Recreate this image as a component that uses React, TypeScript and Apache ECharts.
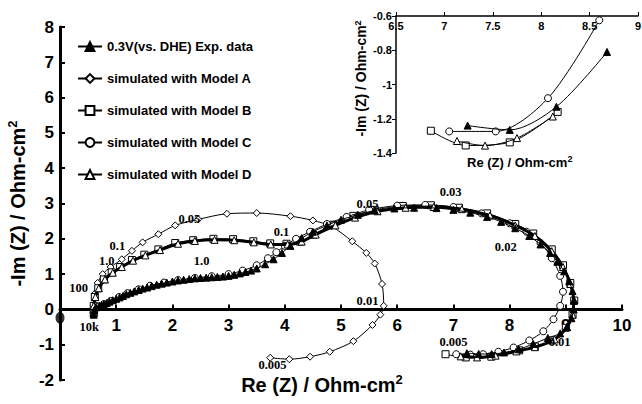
import { useEffect, useRef } from 'react';
import * as echarts from 'echarts';

const FONT = '"Liberation Sans", Arial, Helvetica, sans-serif';
const SERIF = '"Liberation Serif", "Times New Roman", serif';

const legendNames = [
  '0.3V(vs. DHE) Exp. data',
  'simulated with Model A',
  'simulated with Model B',
  'simulated with Model C',
  'simulated with Model D',
];

const expData = [
  [0.6, -0.15], [0.61, -0.02], [0.64, 0.06], [0.7, 0.1], [0.74, 0.12], [0.78, 0.15], [0.83, 0.18],
  [0.88, 0.22], [0.94, 0.26], [1.0, 0.3], [1.06, 0.34], [1.12, 0.38], [1.18, 0.43], [1.25, 0.47],
  [1.32, 0.51], [1.4, 0.55], [1.47, 0.59], [1.55, 0.62], [1.63, 0.66], [1.72, 0.7], [1.81, 0.73],
  [1.9, 0.76], [2.0, 0.79], [2.1, 0.82], [2.2, 0.84], [2.3, 0.86], [2.4, 0.88], [2.5, 0.89],
  [2.6, 0.9], [2.7, 0.91], [2.8, 0.92], [2.9, 0.93], [3.0, 0.95], [3.1, 0.98], [3.2, 1.02],
  [3.3, 1.06], [3.4, 1.1], [3.5, 1.16], [3.65, 1.28], [3.8, 1.42], [3.95, 1.6], [4.1, 1.8],
  [4.3, 2.02], [4.5, 2.2], [4.75, 2.38], [5.0, 2.54], [5.3, 2.68], [5.6, 2.8], [5.95, 2.86],
  [6.3, 2.88], [6.7, 2.87], [7.0, 2.82], [7.3, 2.74], [7.6, 2.62], [7.85, 2.48], [8.1, 2.3],
  [8.35, 2.08], [8.55, 1.84], [8.72, 1.6], [8.85, 1.35], [8.97, 1.08], [9.06, 0.8], [9.12, 0.52],
  [9.15, 0.25], [9.14, 0.0], [9.1, -0.25], [9.02, -0.5], [8.9, -0.68], [8.68, -0.81],
  [8.42, -0.98], [8.16, -1.13], [7.9, -1.22], [7.68, -1.265], [7.45, -1.26], [7.24, -1.24],
];

const modelA = [
  [0.6, -0.1], [0.6, 0.1], [0.62, 0.45], [0.67, 0.75], [0.76, 1.0], [0.9, 1.2], [1.1, 1.42],
  [1.28, 1.66], [1.47, 1.9], [1.75, 2.13], [2.05, 2.38], [2.46, 2.55], [2.97, 2.71], [3.5, 2.73],
  [4.1, 2.64], [4.5, 2.52], [4.83, 2.35], [5.2, 1.93], [5.45, 1.6], [5.6, 1.3], [5.73, 0.72],
  [5.76, 0.1], [5.7, -0.15], [5.56, -0.44], [5.22, -0.9], [4.8, -1.2], [4.45, -1.34],
  [4.08, -1.41], [3.74, -1.37],
];

const modelB = [
  [0.6, -0.1], [0.6, 0.1], [0.62, 0.35], [0.68, 0.6], [0.78, 0.85], [0.92, 1.05], [1.07, 1.2],
  [1.28, 1.4], [1.5, 1.55], [1.75, 1.7], [2.05, 1.88], [2.37, 1.96], [2.73, 2.0], [3.08, 1.99],
  [3.44, 1.93], [3.74, 1.87], [4.03, 1.86], [4.27, 1.92], [4.5, 2.12], [4.86, 2.4], [5.22, 2.65],
  [5.6, 2.82], [6.1, 2.93], [6.6, 2.95], [7.1, 2.88], [7.6, 2.72], [8.1, 2.42], [8.42, 2.15],
  [8.75, 1.7], [8.95, 1.25], [9.08, 0.75], [9.15, 0.25], [9.12, -0.15], [9.0, -0.52],
  [8.75, -0.88], [8.45, -1.05], [8.17, -1.16], [7.675, -1.34], [7.22, -1.36], [6.86, -1.27],
];

const modelC = [
  [0.6, -0.1], [0.62, 0.02], [0.68, 0.08], [0.78, 0.15], [0.9, 0.24], [1.05, 0.35], [1.2, 0.46],
  [1.4, 0.57], [1.6, 0.67], [1.85, 0.76], [2.1, 0.83], [2.4, 0.89], [2.7, 0.94], [3.0, 1.0],
  [3.25, 1.1], [3.5, 1.25], [3.7, 1.45], [3.85, 1.62], [4.0, 1.8], [4.2, 2.0], [4.45, 2.2],
  [4.75, 2.42], [5.1, 2.62], [5.5, 2.82], [6.0, 2.94], [6.5, 2.96], [7.0, 2.9], [7.5, 2.72],
  [8.0, 2.44], [8.3, 2.2], [8.55, 1.88], [8.75, 1.45], [8.9, 0.95], [8.95, 0.5], [8.9, 0.1],
  [8.78, -0.28], [8.6, -0.62], [8.35, -0.88], [8.07, -1.08], [7.8, -1.2], [7.53, -1.27],
  [7.3, -1.28], [7.05, -1.27],
];

const modelD = [
  [0.6, -0.1], [0.6, 0.1], [0.63, 0.35], [0.69, 0.6], [0.8, 0.85], [0.94, 1.04], [1.1, 1.2],
  [1.3, 1.38], [1.52, 1.53], [1.78, 1.68], [2.1, 1.86], [2.4, 1.94], [2.75, 1.97], [3.1, 1.96],
  [3.45, 1.9], [3.75, 1.84], [4.05, 1.84], [4.3, 1.92], [4.55, 2.12], [4.9, 2.38], [5.25, 2.6],
  [5.65, 2.78], [6.15, 2.88], [6.65, 2.9], [7.15, 2.84], [7.65, 2.66], [8.1, 2.38], [8.45, 2.08],
  [8.75, 1.65], [8.95, 1.2], [9.08, 0.72], [9.14, 0.25], [9.12, -0.15], [9.02, -0.5],
  [8.8, -0.85], [8.45, -1.07], [8.12, -1.19], [7.75, -1.31], [7.42, -1.36], [7.13, -1.33],
];

const insetExp = [[7.24, -1.24], [7.675, -1.265], [8.157, -1.13], [8.68, -0.81]];
const insetB = [[6.86, -1.27], [7.22, -1.356], [7.675, -1.338], [8.17, -1.16]];
const insetC = [[7.05, -1.274], [7.53, -1.274], [8.07, -1.08], [8.6, -0.625]];
const insetD = [[7.13, -1.33], [7.42, -1.357], [7.75, -1.313], [8.12, -1.187]];

const freqLabels = ['100', '10k', '1.0', '0.1', '0.05', '1.0', '0.1', '0.005', '0.03', '0.05', '0.02', '0.01', '0.005', '0.01'];
const freqX = [0.34, 0.53, 0.84, 1.03, 2.31, 2.53, 3.95, 3.79, 6.96, 5.48, 7.94, 5.48, 7.01, 8.9];
const freqY = [0.58, -0.52, 1.37, 1.77, 2.56, 1.37, 2.17, -1.6, 3.3, 2.96, 1.74, 0.21, -0.95, -0.95];

const originDot = [[0, -0.24]];

const mainX = { min: 0, max: 10, interval: 1 };
const mainY = { min: -2, max: 8, interval: 1 };
const insetXR = { min: 6.5, max: 9, interval: 0.5 };
const insetYR = { min: -1.4, max: -0.6, interval: 0.2 };

const MAIN_TOP = 27;
const MAIN_H = 353;
// distance (px) from grid bottom (y = -2) up to the y = 0 line
const ZERO_OFFSET = (MAIN_H * (0 - mainY.min)) / (mainY.max - mainY.min);

const supRich = (size: number) => ({
  sup: { fontSize: size, fontWeight: 'bold', fontFamily: FONT, color: '#000', padding: [0, 0, Math.round(size * 0.8), 0] },
});

function lineSeries(name: string, data: number[][], symbol: string, filled: boolean, width: number, axis: number, size: number, z: number) {
  return {
    name,
    type: 'line',
    xAxisIndex: axis,
    yAxisIndex: axis,
    data,
    smooth: 0.3,
    symbol,
    symbolSize: size,
    showAllSymbol: true,
    z,
    lineStyle: { color: '#000', width },
    itemStyle: { color: filled ? '#000' : '#fff', borderColor: '#000', borderWidth: 1 },
    emphasis: { disabled: true },
  };
}

export default function App() {
  const ref = useRef<HTMLDivElement>(null);
  useEffect(() => {
    if (!ref.current) return;
    const chart = echarts.init(ref.current, undefined, { renderer: 'svg' });
    const axisText = { color: '#000', fontWeight: 'bold' as const, fontFamily: FONT };
    const option = {
      animation: false,
      backgroundColor: '#fff',
      textStyle: { fontFamily: FONT },
      grid: [
        { left: 60, top: MAIN_TOP, width: 562, height: MAIN_H, outerBoundsMode: 'none', containLabel: false },
        { left: 396, top: 16, width: 242, height: 137, outerBoundsMode: 'none', containLabel: false },
      ],
      legend: {
        data: legendNames,
        orient: 'vertical',
        left: 72,
        top: 35,
        itemWidth: 24,
        itemHeight: 11,
        itemGap: 19,
        selectedMode: false,
        textStyle: { ...axisText, fontSize: 13 },
      },
      xAxis: [
        {
          type: 'value', gridIndex: 0, ...mainX,
          position: 'bottom',
          offset: -ZERO_OFFSET,
          splitLine: { show: false },
          axisLine: { onZero: false, lineStyle: { color: '#000', width: 3 } },
          axisTick: { inside: true, length: 5, lineStyle: { color: '#000', width: 2 } },
          axisLabel: { ...axisText, fontSize: 17, margin: 8, formatter: (v: number) => (v === 0 ? '' : String(v)) },
          name: 'Re (Z) / Ohm-cm{sup|2}',
          nameLocation: 'middle',
          nameGap: 64,
          nameTextStyle: { ...axisText, fontSize: 20, padding: [0, 38, 0, 0], rich: supRich(13) },
        },
        {
          type: 'value', gridIndex: 1, ...insetXR, position: 'top',
          splitLine: { show: false },
          axisLine: { onZero: false, lineStyle: { color: '#000', width: 1.5 } },
          axisTick: { inside: false, length: 4, lineStyle: { color: '#000', width: 1 } },
          axisLabel: { ...axisText, fontSize: 11, inside: true, margin: 4 },
        },
      ],
      yAxis: [
        {
          type: 'value', gridIndex: 0, ...mainY,
          splitLine: { show: false },
          axisLine: { onZero: false, lineStyle: { color: '#000', width: 3 } },
          axisTick: { inside: true, length: 5, lineStyle: { color: '#000', width: 2 } },
          axisLabel: { ...axisText, fontSize: 17, margin: 6 },
          name: '-Im (Z) / Ohm-cm{sup|2}',
          nameLocation: 'middle',
          nameGap: 28,
          nameTextStyle: { ...axisText, fontSize: 20, rich: supRich(13) },
        },
        {
          type: 'value', gridIndex: 1, ...insetYR,
          splitLine: { show: false },
          axisLine: { onZero: false, lineStyle: { color: '#000', width: 1.5 } },
          axisTick: { inside: false, length: 4, lineStyle: { color: '#000', width: 1 } },
          axisLabel: { ...axisText, fontSize: 11, margin: 4 },
          name: '-Im (Z) / Ohm-cm{sup|2}',
          nameLocation: 'middle',
          nameGap: 27,
          nameTextStyle: { ...axisText, fontSize: 14, padding: [0, 0, 0, 12], rich: supRich(9) },
        },
      ],
      graphic: [
        {
          type: 'text',
          left: 467,
          top: 154,
          style: {
            text: 'Re (Z) / Ohm-cm{sup|2}',
            fill: '#000',
            font: `bold 13px ${FONT}`,
            rich: { sup: { fontSize: 9, fontWeight: 'bold', fontFamily: FONT, fill: '#000', padding: [0, 0, 7, 0] } },
          },
        },
      ],
      series: [
        lineSeries(legendNames[1], modelA, 'diamond', false, 1, 0, 7, 3),
        lineSeries(legendNames[2], modelB, 'rect', false, 1, 0, 7, 4),
        lineSeries(legendNames[3], modelC, 'circle', false, 1, 0, 7, 5),
        lineSeries(legendNames[4], modelD, 'triangle', false, 3, 0, 7, 6),
        lineSeries(legendNames[0], expData, 'triangle', true, 1, 0, 7, 7),
        lineSeries('inset B', insetB, 'rect', false, 1, 1, 7, 4),
        lineSeries('inset C', insetC, 'circle', false, 1, 1, 7, 5),
        lineSeries('inset D', insetD, 'triangle', false, 1, 1, 7, 6),
        lineSeries('inset Exp', insetExp, 'triangle', true, 1, 1, 7, 7),
        {
          name: 'origin',
          type: 'scatter',
          xAxisIndex: 0,
          yAxisIndex: 0,
          data: originDot,
          symbol: 'circle',
          symbolSize: [9, 12],
          itemStyle: { color: '#000' },
          z: 8,
        },
        {
          name: 'freq',
          type: 'scatter',
          xAxisIndex: 0,
          yAxisIndex: 0,
          symbolSize: 1,
          itemStyle: { color: 'rgba(0,0,0,0)' },
          z: 9,
          data: freqLabels.map((t, i) => ({ name: t, value: [freqX[i], freqY[i]] })),
          label: {
            show: true,
            position: [0, 0],
            align: 'center',
            verticalAlign: 'middle',
            formatter: (p: any) => p.name,
            color: '#000',
            opacity: 1,
            textBorderWidth: 0,
            fontWeight: 'bold',
            fontSize: 12.5,
            fontFamily: SERIF,
          },
        },
      ],
    };
    chart.setOption(option as any);
    return () => chart.dispose();
  }, []);
  return <div ref={ref} style={{ width: 642, height: 404, position: 'absolute', left: 0, top: 0 }} />;
}
